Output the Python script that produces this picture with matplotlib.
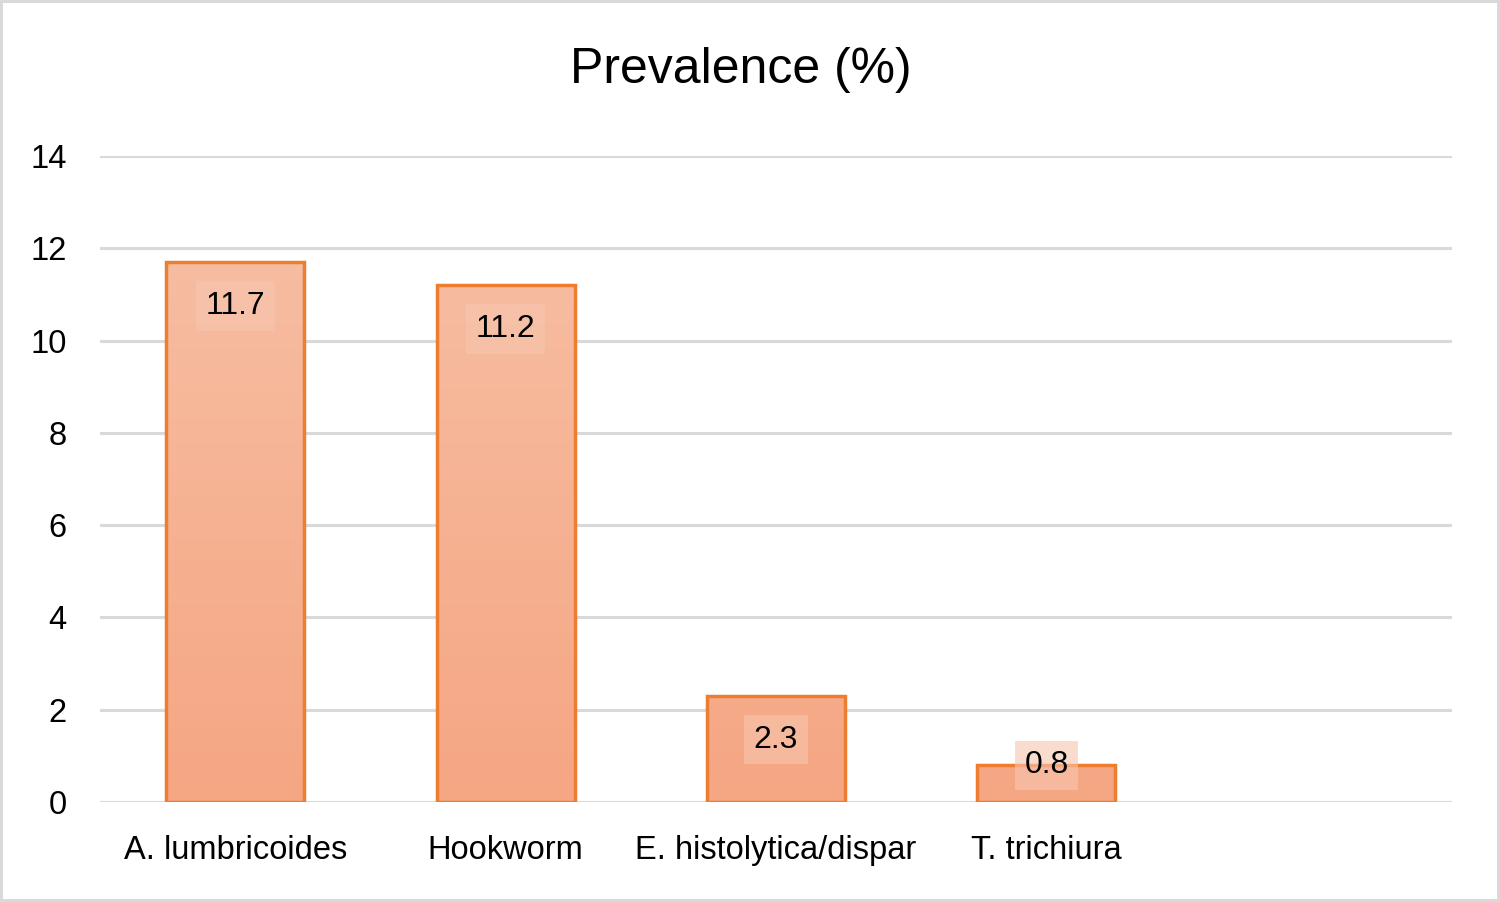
import matplotlib
matplotlib.use("Agg")
import matplotlib.pyplot as plt
import numpy as np
from matplotlib.colors import LinearSegmentedColormap

plt.rcParams['font.family'] = ['Liberation Sans', 'DejaVu Sans']

# data
species = ['A. lumbricoides', 'Hookworm', 'E. histolytica/dispar', 'T. trichiura', '']
prevalence = [11.7, 11.2, 2.3, 0.8, None]
y_ticks = [0, 2, 4, 6, 8, 10, 12, 14]

fig = plt.figure(figsize=(15, 9.02), dpi=100)
fig.patch.set_edgecolor('#D9D9D9')
fig.patch.set_linewidth(3)
ax = fig.add_axes([100 / 1500, 100 / 902, 1352 / 1500, 646 / 902])

x = np.arange(len(species))
vals = [v if v is not None else 0 for v in prevalence]

# gradient fill for the bars (light top -> deeper bottom)
grad = LinearSegmentedColormap.from_list('bar', ['#F5A683', '#F7C1A7'])
bars = ax.bar(x, vals, width=0.51, facecolor='none', edgecolor='#ED7D31',
              linewidth=2.5, zorder=3)
for b, v in zip(bars, prevalence):
    if v is None:
        b.set_visible(False)
        continue
    im = ax.imshow(np.linspace(0, 1, 256).reshape(-1, 1), cmap=grad, aspect='auto',
                   origin='lower', extent=[b.get_x(), b.get_x() + b.get_width(), 0, 14],
                   zorder=2, interpolation='bilinear')
    im.set_clip_path(b)
    ypos = v - 0.95 if v > 2 else v
    ax.text(b.get_x() + b.get_width() / 2, ypos, f'{v}', ha='center', va='center',
            fontsize=23, color='black', zorder=4,
            bbox=dict(boxstyle='square,pad=0.3', facecolor='#F7C6AF', edgecolor='none', alpha=0.6))
ax.set_xlim(-0.5, len(species) - 0.5)
ax.set_ylim(0, 14)

ax.set_yticks(y_ticks)
ax.set_xticks(x)
ax.set_xticklabels(species)
ax.tick_params(axis='both', length=0, labelsize=23.5, colors='black')
ax.tick_params(axis='y', pad=24)
ax.tick_params(axis='x', pad=24)
ax.yaxis.grid(True, color='#D9D9D9', linewidth=2.2, zorder=0)
ax.set_axisbelow(True)
for s in ax.spines.values():
    s.set_visible(False)

fig.text(0.494, 1 - 70 / 902, 'Prevalence (%)', ha='center', va='center', fontsize=36)

fig.savefig('out.png', dpi=100, edgecolor=fig.get_edgecolor())
